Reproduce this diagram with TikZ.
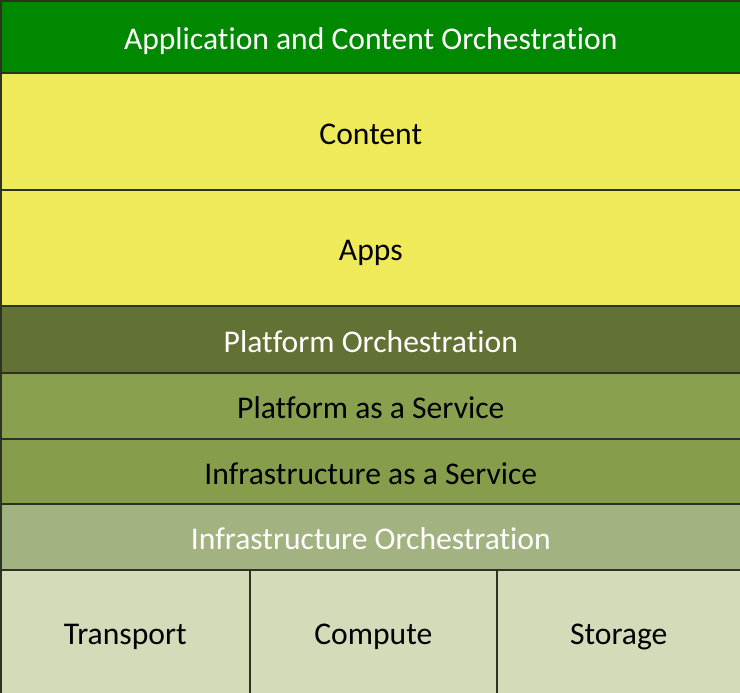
\documentclass[tikz,border=0pt]{standalone}
\usepackage{fontspec}
\setmainfont{Carlito}[Ligatures=NoCommon]
\definecolor{topgreen}{RGB}{0,136,0}
\definecolor{yel}{RGB}{239,234,90}
\definecolor{porch}{RGB}{98,114,52}
\definecolor{paas}{RGB}{137,161,78}
\definecolor{iaas}{RGB}{134,158,75}
\definecolor{iorch}{RGB}{162,178,128}
\definecolor{base}{RGB}{211,219,185}
\definecolor{edge}{RGB}{45,50,35}
\tikzset{
  txt/.style={font=\fontsize{31.6}{36}\selectfont, text height=34pt, text depth=8pt},
  band/.style={txt, draw=edge, line width=1.6pt, minimum width=740pt, anchor=north west, inner sep=0pt},
  cell/.style={txt, draw=edge, line width=1.6pt, anchor=north west, inner sep=0pt, fill=base, text=black},
}
\begin{document}
\begin{tikzpicture}[x=1pt,y=1pt]
\useasboundingbox (0,0) rectangle (740,693);
\node[band, fill=topgreen, text=white, minimum height=72pt] (aco) at (0,693) {Application and Content Orchestration};
\node[band, fill=yel, text=black, minimum height=117pt] (content) at (0,621) {Content};
\node[band, fill=yel, text=black, minimum height=116pt] (apps) at (0,504) {Apps};
\node[band, fill=porch, text=white, minimum height=67pt] (po) at (0,388) {Platform Orchestration};
\node[band, fill=paas, text=black, minimum height=66pt] (paas) at (0,321) {Platform as a Service};
\node[band, fill=iaas, text=black, minimum height=65pt] (iaas) at (0,255) {Infrastructure as a Service};
\node[band, fill=iorch, text=white, minimum height=66pt] (io) at (0,190) {Infrastructure Orchestration};
\node[cell, minimum width=249pt, minimum height=124pt] (transport) at (0,124) {Transport};
\node[cell, minimum width=247pt, minimum height=124pt] (compute) at (249,124) {Compute};
\node[cell, minimum width=244pt, minimum height=124pt] (storage) at (496,124) {Storage};
\end{tikzpicture}
\end{document}
